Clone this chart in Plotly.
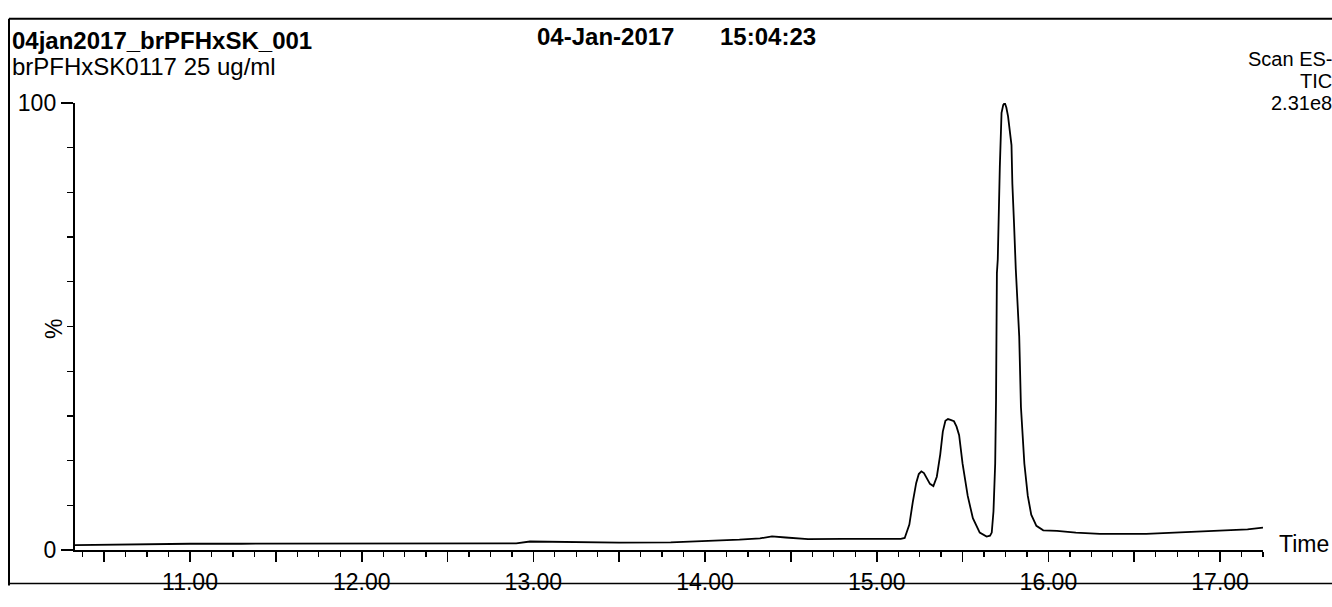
import plotly.graph_objects as go

# ---------------- data ----------------
time_min = [10.33, 10.50, 10.80, 11.00, 11.30, 11.60, 11.90, 12.20, 12.50, 12.74,
            12.90, 12.98, 13.20, 13.50, 13.80, 14.00, 14.20, 14.32, 14.39, 14.47, 14.60,
            14.80, 15.00, 15.14, 15.163, 15.19, 15.21, 15.23, 15.245, 15.26, 15.275, 15.29,
            15.31, 15.33, 15.35, 15.37, 15.385, 15.40, 15.415, 15.43, 15.45, 15.465, 15.48,
            15.50, 15.53, 15.56, 15.60, 15.64, 15.66, 15.67, 15.68, 15.69, 15.695, 15.70,
            15.705, 15.717, 15.727, 15.737, 15.746, 15.755, 15.765, 15.785, 15.79, 15.80,
            15.81, 15.83, 15.84, 15.86, 15.88, 15.90, 15.93, 15.97, 16.05, 16.16, 16.30,
            16.57, 16.87, 17.16, 17.25]
intensity_pct = [1.1, 1.2, 1.3, 1.4, 1.4, 1.4, 1.5, 1.5, 1.45, 1.45,
                 1.5, 1.9, 1.8, 1.65, 1.7, 1.95, 2.3, 2.6, 3.05, 2.8, 2.45,
                 2.5, 2.5, 2.5, 2.7, 5.7, 10.7, 15.0, 17.0, 17.6, 17.2, 16.2,
                 14.8, 14.3, 16.4, 21.4, 26.5, 28.9, 29.3, 29.1, 28.8, 27.6, 25.7,
                 19.3, 12.1, 7.1, 3.9, 3.0, 3.2, 3.9, 8.6, 19.3, 33.6, 62.0,
                 65.0, 85.7, 97.8, 99.6, 100.0, 99.0, 97.0, 90.6, 82.0, 72.8,
                 62.8, 47.8, 32.0, 19.3, 12.1, 7.9, 5.4, 4.4, 4.3, 3.9, 3.6,
                 3.6, 4.1, 4.6, 5.0]

x_tick_vals = [10.5, 11.0, 11.5, 12.0, 12.5, 13.0, 13.5, 14.0, 14.5, 15.0, 15.5, 16.0, 16.5, 17.0]
x_tick_text = ["", "11.00", "", "12.00", "", "13.00", "", "14.00", "", "15.00", "", "16.00", "", "17.00"]
y_tick_vals = [0, 100]
y_tick_text = ["0", "100"]

header_name = "04jan2017_brPFHxSK_001"
header_sample = "brPFHxSK0117 25 ug/ml"
header_date = "04-Jan-2017"
header_time = "15:04:23"
header_right = ["Scan ES-", "TIC", "2.31e8"]
x_title = "Time"
y_title = "%"

# ---------------- layout geometry (page pixels) ----------------
W, H = 1332, 607
L, R, T, B = 75, 1263, 103, 570          # plot area in page pixels
PW, PH = R - L, B - T


def px(xp):
    return (xp - L) / PW


def py(yp):
    return (B - yp) / PH


FONT = "Liberation Sans, Arial, sans-serif"


def txt(text, x, y, size, xanchor="left", angle=0):
    return dict(text=text, x=px(x), y=py(y), xanchor=xanchor, yanchor="middle",
                xref="paper", yref="paper", showarrow=False, textangle=angle,
                font=dict(size=size, family=FONT, color="black"))


fig = go.Figure()
fig.add_trace(go.Scatter(
    x=time_min, y=intensity_pct, mode="lines",
    line=dict(color="black", width=1.8),
    hoverinfo="skip", showlegend=False,
))

annotations = [
    txt("<b>" + header_name + "</b>", 10, 38, 24),
    txt(header_sample, 10, 65, 24),
    txt("<b>" + header_date + "</b>", 535, 34, 24),
    txt("<b>" + header_time + "</b>", 718, 34, 24),
    txt(header_right[0], 1334, 57, 20, xanchor="right"),
    txt(header_right[1], 1334, 80, 20, xanchor="right"),
    txt(header_right[2], 1334, 103, 20, xanchor="right"),
    txt(x_title, 1277, 564, 23),
    txt(y_title, 54, 339, 23, xanchor="center", angle=-90),
]

shapes = [
    dict(type="line", x0=px(9), x1=px(1332), y0=py(15), y1=py(15), line=dict(color="black", width=2)),
    dict(type="line", x0=px(9), x1=px(9), y0=py(15), y1=py(607), line=dict(color="black", width=2)),
    dict(type="line", x0=px(9), x1=px(1332), y0=py(605), y1=py(605), line=dict(color="black", width=1.5)),
]
for s in shapes:
    s.update(xref="paper", yref="paper", layer="above")

fig.update_layout(
    width=W, height=H,
    margin=dict(l=L, r=W - R, t=T, b=H - B, pad=0),
    paper_bgcolor="white", plot_bgcolor="white",
    annotations=annotations, shapes=shapes,
    xaxis=dict(
        range=[10.33, 17.25], showgrid=False, zeroline=False,
        showline=True, linecolor="black", linewidth=2.2,
        tickmode="array", tickvals=x_tick_vals, ticktext=x_tick_text,
        ticks="outside", ticklen=10, tickwidth=1.6, tickcolor="black",
        tickfont=dict(size=23, family=FONT, color="black"),
        minor=dict(tick0=10.0, dtick=0.125, ticks="outside", ticklen=5, tickwidth=1.3, tickcolor="black"),
    ),
    yaxis=dict(
        range=[0, 100], showgrid=False, zeroline=False,
        showline=True, linecolor="black", linewidth=2.2,
        tickmode="array", tickvals=y_tick_vals, ticktext=y_tick_text,
        ticks="outside", ticklen=12, tickwidth=1.6, tickcolor="black",
        tickfont=dict(size=23, family=FONT, color="black"),
        minor=dict(tick0=0, dtick=10, ticks="outside", ticklen=6, tickwidth=1.3, tickcolor="black"),
    ),
)

fig.write_html(
    "out.html",
    config={"displayModeBar": False, "staticPlot": True},
    post_script="document.body.style.margin='0';document.body.style.overflow='hidden';",
)
